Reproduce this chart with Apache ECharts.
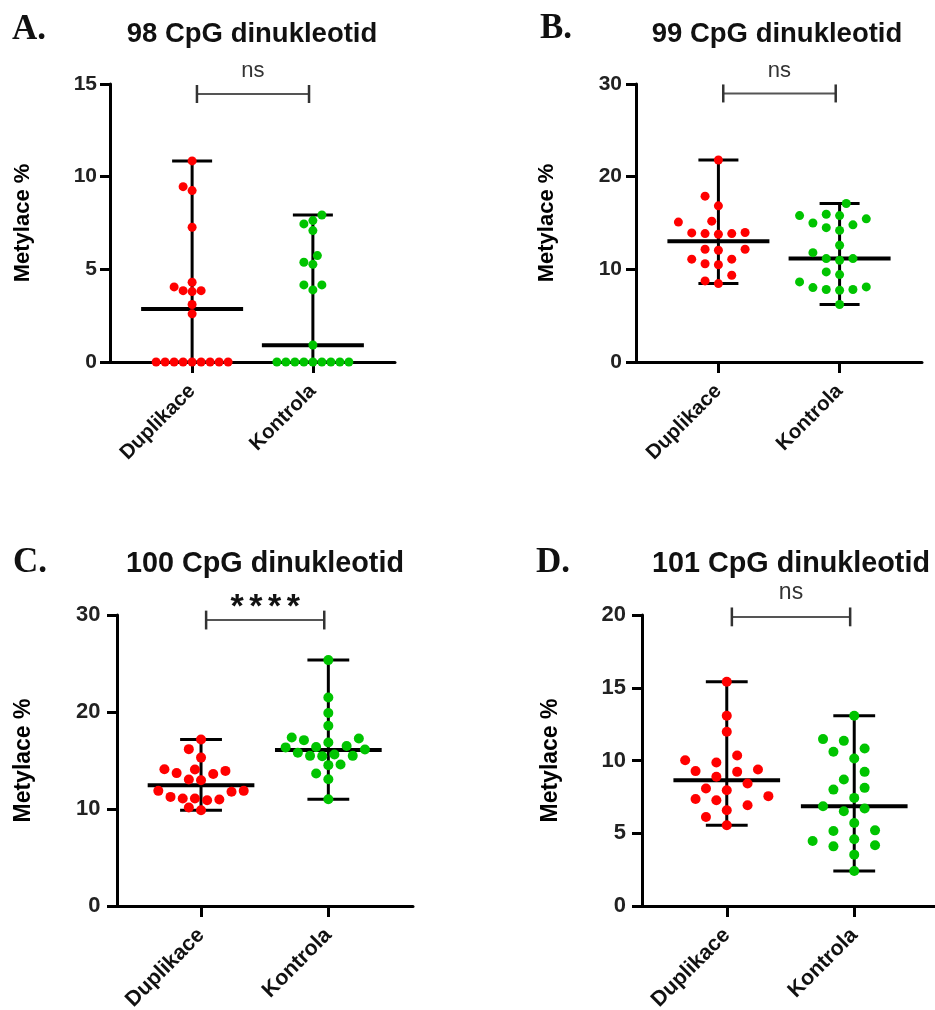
<!DOCTYPE html>
<html>
<head>
<meta charset="utf-8">
<script src="https://cdn.jsdelivr.net/npm/echarts@6/dist/echarts.min.js"></script>
<style>
  html, body { margin: 0; padding: 0; background: #fff; }
  #chart { width: 935px; height: 1010px; }
</style>
</head>
<body>
<div id="chart"></div>
<script>
// skupiny na ose x
const groups = ['Duplikace', 'Kontrola']

// 98 CpG dinukleotid
const dupA = [10.85, 9.46, 9.25, 7.27, 4.3, 4.05, 3.85, 3.85, 3.8, 3.1, 2.6, 0, 0, 0, 0, 0, 0, 0, 0, 0]
const konA = [7.93, 7.63, 7.45, 7.09, 5.74, 5.38, 5.27, 4.16, 4.16, 3.89, 0.92, 0, 0, 0, 0, 0, 0, 0, 0, 0]
const medA = [2.86, 0.9]

// 99 CpG dinukleotid
const dupB = [21.8, 17.9, 16.85, 15.2, 15.1, 13.93, 13.86, 13.97, 13.79, 13.86, 12.17, 12.17, 12.06, 11.1, 11.1, 10.6, 10.5, 9.36, 8.75, 8.46]
const konB = [17.1, 15.95, 15.8, 15.8, 15.45, 15.0, 14.8, 14.5, 14.2, 12.6, 11.8, 11.16, 11.16, 10.98, 9.72, 9.43, 8.64, 8.1, 8.03, 7.82, 7.82, 7.74, 6.2]
const medB = [13.03, 11.16]

// 100 CpG dinukleotid
const dupC = [17.17, 16.17, 15.3, 14.1, 14.07, 13.93, 13.7, 13.6, 13.04, 12.97, 11.87, 11.87, 11.77, 11.25, 11.08, 11.08, 10.98, 10.9, 10.15, 9.87]
const konC = [25.35, 21.5, 19.9, 18.58, 17.38, 17.27, 17.1, 16.86, 16.5, 16.4, 16.35, 16.14, 15.79, 15.62, 15.48, 15.48, 15.45, 14.59, 14.52, 13.66, 13.07, 11.0]
const medC = [12.45, 16.07]

// 101 CpG dinukleotid
const dupD = [15.41, 13.07, 11.97, 10.34, 10.02, 9.86, 9.38, 9.27, 9.22, 8.88, 8.42, 8.07, 7.96, 7.55, 7.36, 7.27, 6.93, 6.58, 6.12, 5.55]
const konD = [13.07, 11.47, 11.35, 10.83, 10.6, 10.14, 9.22, 8.69, 8.12, 8.0, 7.43, 6.86, 6.7, 6.51, 5.71, 5.2, 5.16, 4.59, 4.47, 4.17, 4.1, 3.53, 2.41]
const medD = [8.65, 6.86]

const panels = [
  { letter: 'A.', title: '98 CpG dinukleotid', dup: dupA, kon: konA, med: medA, sig: 'ns', sigY: 14.46,
    yMax: 15, yStep: 5, box: { left: 110, top: 84, width: 285, height: 278 }, xMin: -0.68, xMax: 1.68,
    titleX: 252, titleY: 34, letterX: 12, letterY: 32, s: 1, nameGap: 76, labelGap: 13, step: 4.5, gap: 9, dot: 9 },
  { letter: 'B.', title: '99 CpG dinukleotid', dup: dupB, kon: konB, med: medB, sig: 'ns', sigY: 28.98,
    yMax: 30, yStep: 10, box: { left: 636, top: 84, width: 286, height: 278 }, xMin: -0.68, xMax: 1.68,
    titleX: 777, titleY: 34, letterX: 540, letterY: 31, s: 1, nameGap: 78, labelGap: 14, step: 6.67, gap: 13.3, dot: 9 },
  { letter: 'C.', title: '100 CpG dinukleotid', dup: dupC, kon: konC, med: medC, sig: '****', sigY: 29.48,
    yMax: 30, yStep: 10, box: { left: 117, top: 615, width: 296, height: 291 }, xMin: -0.66, xMax: 1.665,
    titleX: 265, titleY: 564, letterX: 13, letterY: 565, s: 1.046, nameGap: 82, labelGap: 16.5, step: 6.1, gap: 10.8, dot: 10 },
  { letter: 'D.', title: '101 CpG dinukleotid', dup: dupD, kon: konD, med: medD, sig: 'ns', sigY: 19.87,
    yMax: 20, yStep: 5, box: { left: 642, top: 615, width: 297, height: 291 }, xMin: -0.665, xMax: 1.665,
    titleX: 791, titleY: 564, letterX: 536, letterY: 565, s: 1.046, nameGap: 80, labelGap: 16, step: 10.4, gap: 14, dot: 10 }
]

const font = '"Liberation Sans", Arial, sans-serif'

// rozhozeni bodu do stran (beeswarm na mrizce)
function swarm(vals, pxY, step, gap) {
  const order = vals.map((v, i) => i).sort((a, b) => vals[a] - vals[b])
  const placed = []
  const off = []
  order.forEach(i => {
    const y = vals[i] * pxY
    let x = 0
    for (let n = 0; n < 400; n++) {
      const k = n === 0 ? 0 : (n % 2 ? -Math.ceil(n / 2) : n / 2)
      x = k * step
      if (placed.every(p => (p.x - x) ** 2 + (p.y - y) ** 2 >= gap * gap - 0.01)) break
    }
    placed.push({ x, y })
    off[i] = x
  })
  return off
}

const grids = [], xAxes = [], yAxes = [], series = [], graphics = []

panels.forEach((p, gi) => {
  const s = p.s
  grids.push(Object.assign({ outerBoundsMode: 'none', containLabel: false }, p.box))
  xAxes.push({
    gridIndex: gi, type: 'value', min: p.xMin, max: p.xMax,
    axisLine: { show: true, onZero: false, lineStyle: { color: '#000', width: 3 } },
    axisTick: { show: true, customValues: [0, 1], length: 11, lineStyle: { color: '#000', width: 3 } },
    axisLabel: { customValues: [0, 1], rotate: 45, margin: 26, color: '#111', fontWeight: 'bold',
      fontSize: 20.5 * s, fontFamily: font, formatter: v => groups[Math.round(v)] },
    splitLine: { show: false }
  })
  yAxes.push({
    gridIndex: gi, type: 'value', min: 0, max: p.yMax, interval: p.yStep,
    name: 'Metylace %', nameLocation: 'middle', nameGap: p.nameGap, nameRotate: 90,
    nameTextStyle: { color: '#000', fontWeight: 'bold', fontSize: 22 * s, fontFamily: font },
    axisLine: { show: true, onZero: false, lineStyle: { color: '#000', width: 3 } },
    axisTick: { show: true, length: 10, lineStyle: { color: '#000', width: 3 } },
    axisLabel: { color: '#222', fontWeight: 'bold', fontSize: 21 * s, fontFamily: font, margin: p.labelGap },
    splitLine: { show: false }
  })

  const pxY = p.box.height / p.yMax
  const pxX = p.box.width / (p.xMax - p.xMin)
  const sets = [p.dup, p.kon]

  // median + rozsah (min - max)
  series.push({
    type: 'custom', xAxisIndex: gi, yAxisIndex: gi, z: 2,
    encode: { x: 0, y: [1, 2, 3] },
    data: sets.map((v, c) => [c, Math.min(...v), p.med[c], Math.max(...v)]),
    renderItem: (params, api) => {
      const c = api.value(0)
      const lo = api.coord([c, api.value(1)])
      const md = api.coord([c, api.value(2)])
      const hi = api.coord([c, api.value(3)])
      const cap = 20 * s, mh = 51 * s
      const st = { stroke: '#000', lineWidth: 3 }
      return {
        type: 'group', children: [
          { type: 'line', shape: { x1: lo[0], y1: lo[1], x2: hi[0], y2: hi[1] }, style: st },
          { type: 'line', shape: { x1: lo[0] - cap, y1: lo[1], x2: lo[0] + cap, y2: lo[1] }, style: st },
          { type: 'line', shape: { x1: hi[0] - cap, y1: hi[1], x2: hi[0] + cap, y2: hi[1] }, style: st },
          { type: 'line', shape: { x1: md[0] - mh, y1: md[1], x2: md[0] + mh, y2: md[1] }, style: { stroke: '#000', lineWidth: 4 } }
        ]
      }
    }
  })

  // body
  const colors = ['#ff0000', '#00c400']
  sets.forEach((vals, c) => {
    const off = swarm(vals, pxY, p.step, p.gap)
    series.push({
      type: 'scatter', xAxisIndex: gi, yAxisIndex: gi, z: 3,
      symbol: 'circle', symbolSize: p.dot,
      itemStyle: { color: colors[c], opacity: 1 },
      data: vals.map((v, i) => [c + off[i] / pxX, v])
    })
  })

  // zavorka s vyznamnosti
  series.push({
    type: 'custom', xAxisIndex: gi, yAxisIndex: gi, z: 4,
    encode: { x: [0, 1], y: 2 },
    data: [[0.04, 0.968, p.sigY]],
    renderItem: (params, api) => {
      const a = api.coord([api.value(0), api.value(2)])
      const b = api.coord([api.value(1), api.value(2)])
      const h = 9 * s
      const kids = [
        { type: 'line', shape: { x1: a[0], y1: a[1], x2: b[0], y2: b[1] }, style: { stroke: '#555', lineWidth: 2 } },
        { type: 'line', shape: { x1: a[0], y1: a[1] - h, x2: a[0], y2: a[1] + h }, style: { stroke: '#333', lineWidth: 2.5 } },
        { type: 'line', shape: { x1: b[0], y1: b[1] - h, x2: b[0], y2: b[1] + h }, style: { stroke: '#333', lineWidth: 2.5 } }
      ]
      const mid = (a[0] + b[0]) / 2
      if (p.sig === 'ns') {
        kids.push({ type: 'text', x: mid, y: a[1] - 23 * s,
          style: { text: p.sig, fill: '#333', font: (22 * s) + 'px ' + font, align: 'center', verticalAlign: 'middle' } })
      } else {
        const ch = p.sig.split('')
        ch.forEach((t, k) => {
          kids.push({ type: 'text', x: mid + (k - (ch.length - 1) / 2) * 18.7, y: a[1] - 12,
            style: { text: t, fill: '#111', font: 'bold 34px ' + font, align: 'center', verticalAlign: 'middle' } })
        })
      }
      return { type: 'group', children: kids }
    }
  })

  graphics.push({
    type: 'text', left: p.letterX, top: p.letterY - 20,
    style: { text: p.letter, fill: '#111', font: 'bold 35px "Liberation Serif", "Times New Roman", serif' }
  })
  graphics.push({
    type: 'text', x: p.titleX, y: p.titleY,
    style: { text: p.title, fill: '#111', font: 'bold ' + (27.5 * s) + 'px ' + font, align: 'center', verticalAlign: 'middle' }
  })
})

const chart = echarts.init(document.getElementById('chart'), null, { renderer: 'canvas' })
chart.setOption({
  animation: false,
  backgroundColor: '#fff',
  grid: grids,
  xAxis: xAxes,
  yAxis: yAxes,
  series: series,
  graphic: graphics
})
</script>
</body>
</html>
